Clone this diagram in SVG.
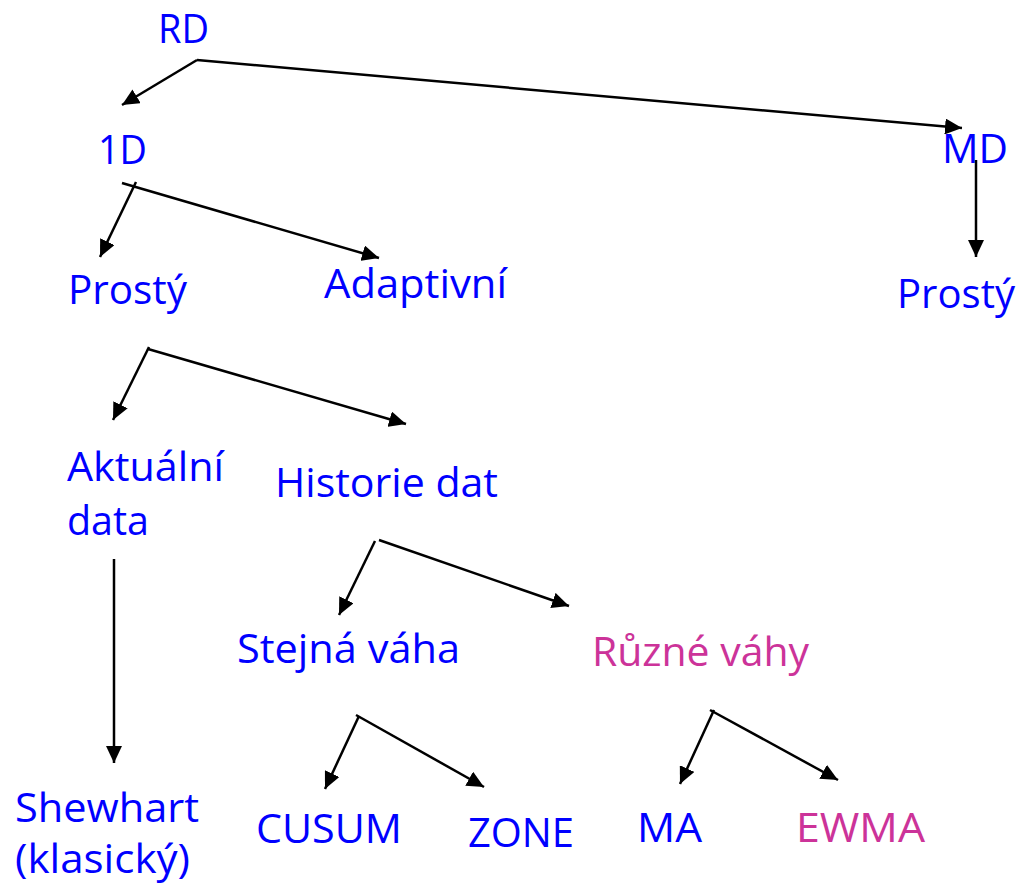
<svg xmlns="http://www.w3.org/2000/svg" width="1023" height="887" viewBox="0 0 1023 887">
<style>
.t{font-family:"Open Sans","Noto Sans","Liberation Sans",sans-serif;font-size:41px;fill:#0000FF}
.m{fill:#CC3399}
.c{stroke:#000;stroke-width:2.5;fill:none;marker-end:url(#ah)}
</style>
<defs>
<marker id="ah" markerUnits="userSpaceOnUse" markerWidth="17" markerHeight="16" refX="17" refY="8" orient="auto">
<path d="M0,0 L17,8 L0,16 Z" fill="#000"/>
</marker>
</defs>
<rect width="1023" height="887" fill="#fff"/>
<g id="connectors">
<path class="c" d="M197,60 L122,105"/>
<path class="c" d="M197,60 L962,128"/>
<path class="c" d="M136,182 L100,257"/>
<path class="c" d="M122,183 L379,258"/>
<path class="c" d="M976,160 L976,257"/>
<path class="c" d="M149,347 L113,420"/>
<path class="c" d="M148,349 L406,424"/>
<path class="c" d="M375,541 L339,615"/>
<path class="c" d="M379,540 L569,606"/>
<path class="c" d="M114,559 L114,763"/>
<path class="c" d="M359,716 L325,789"/>
<path class="c" d="M356,715 L484,787"/>
<path class="c" d="M714,710 L680,784"/>
<path class="c" d="M710,710 L838,780"/>
</g>
<g id="RD"><text class="t" x="158" y="43" textLength="51" lengthAdjust="spacingAndGlyphs">RD</text></g>
<g id="1D"><text class="t" x="98" y="164" textLength="49" lengthAdjust="spacingAndGlyphs">1D</text></g>
<g id="MD"><text class="t" x="942" y="163" textLength="66" lengthAdjust="spacingAndGlyphs">MD</text></g>
<g id="Prosty1"><text class="t" x="68" y="304" textLength="119" lengthAdjust="spacingAndGlyphs">Prostý</text></g>
<g id="Adaptivni"><text class="t" x="324" y="298" textLength="183" lengthAdjust="spacingAndGlyphs">Adaptivní</text></g>
<g id="Prosty2"><text class="t" x="897" y="308" textLength="118" lengthAdjust="spacingAndGlyphs">Prostý</text></g>
<g id="Aktualni"><text class="t" x="67" y="481" textLength="157" lengthAdjust="spacingAndGlyphs">Aktuální</text><text class="t" x="67" y="535" textLength="82" lengthAdjust="spacingAndGlyphs">data</text></g>
<g id="Historie"><text class="t" x="275" y="497" textLength="223" lengthAdjust="spacingAndGlyphs">Historie dat</text></g>
<g id="Stejna"><text class="t" x="237" y="663" textLength="223" lengthAdjust="spacingAndGlyphs">Stejná váha</text></g>
<g id="Ruzne"><text class="t m" x="592" y="666" textLength="217" lengthAdjust="spacingAndGlyphs">Různé váhy</text></g>
<g id="Shewhart"><text class="t" x="15" y="822" textLength="184" lengthAdjust="spacingAndGlyphs">Shewhart</text><text class="t" x="15" y="873" textLength="175" lengthAdjust="spacingAndGlyphs">(klasický)</text></g>
<g id="CUSUM"><text class="t" x="256" y="843" textLength="146" lengthAdjust="spacingAndGlyphs">CUSUM</text></g>
<g id="ZONE"><text class="t" x="468" y="847" textLength="106" lengthAdjust="spacingAndGlyphs">ZONE</text></g>
<g id="MA"><text class="t" x="637" y="842" textLength="65" lengthAdjust="spacingAndGlyphs">MA</text></g>
<g id="EWMA"><text class="t m" x="796" y="842" textLength="129" lengthAdjust="spacingAndGlyphs">EWMA</text></g>
</svg>
